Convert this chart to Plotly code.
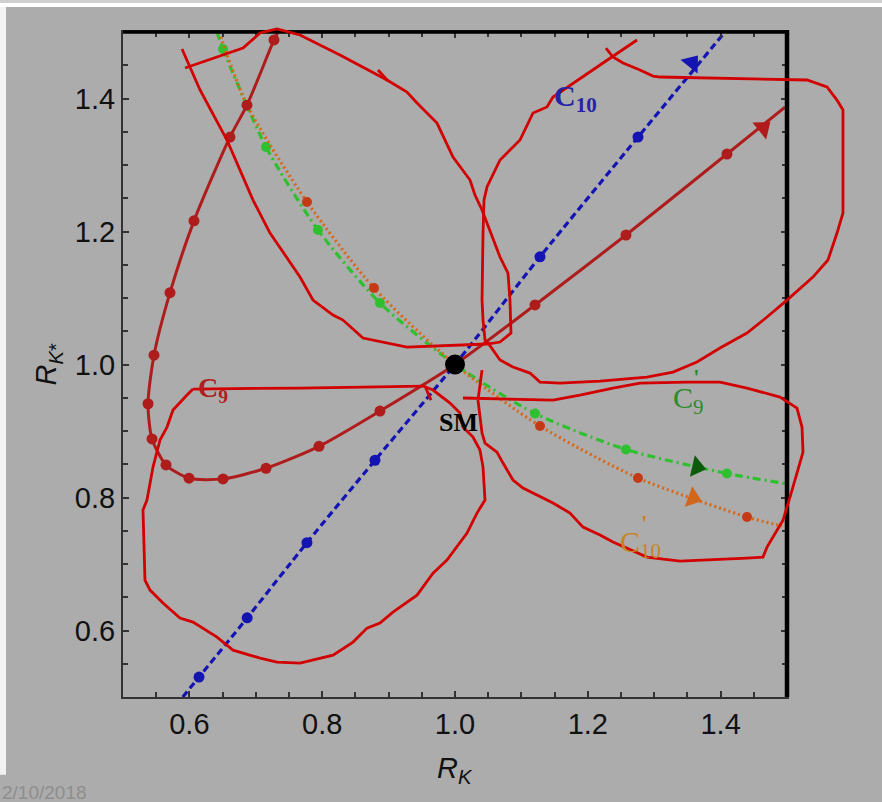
import plotly.graph_objects as go

# ---------------------------------------------------------------- axes
X_RANGE = [0.5, 1.5]
Y_RANGE = [0.5, 1.5]
TICK_LABELS = [0.6, 0.8, 1.0, 1.2, 1.4]

# ---------------------------------------------------------------- flows in the (R_K, R_K*) plane
# C10 (blue, dashed)
c10_rk = [0.590, 0.6145, 0.687, 0.777, 0.8795, 1.000, 1.128, 1.2756, 1.4066]
c10_rks = [0.500, 0.530, 0.619, 0.732, 0.856, 1.000, 1.162, 1.342, 1.500]
c10_dot_rk = [0.6145, 0.687, 0.777, 0.8795, 1.128, 1.2756]
c10_dot_rks = [0.530, 0.619, 0.732, 0.856, 1.162, 1.342]

# C9 (dark red, solid)
c9_rk = [0.7334, 0.7274, 0.6867, 0.6611, 0.6069, 0.5708, 0.5467, 0.5377, 0.5437,
         0.5648, 0.5994, 0.6506, 0.7154, 0.7952, 0.8870, 1.000, 1.1205, 1.2575,
         1.4096, 1.497]
c9_rks = [1.500, 1.488, 1.390, 1.342, 1.216, 1.108, 1.014, 0.941, 0.888,
          0.849, 0.829, 0.828, 0.844, 0.877, 0.930, 1.000, 1.0895, 1.1947,
          1.3165, 1.387]
c9_dot_rk = [0.7274, 0.6867, 0.6611, 0.6069, 0.5708, 0.5467, 0.5377, 0.5437, 0.5648,
             0.5994, 0.6506, 0.7154, 0.7952, 0.8870, 1.1205, 1.2575, 1.4096]
c9_dot_rks = [1.488, 1.390, 1.342, 1.216, 1.108, 1.014, 0.941, 0.888, 0.849,
              0.829, 0.828, 0.844, 0.877, 0.930, 1.0895, 1.1947, 1.3165]

# C9' (green, dash-dot)
c9p_rk = [0.6416, 0.6506, 0.7154, 0.7937, 0.8870, 1.000, 1.1205, 1.2575, 1.4096, 1.497]
c9p_rks = [1.500, 1.4744, 1.327, 1.2023, 1.0925, 1.000, 0.9263, 0.8722, 0.8361, 0.8211]
c9p_dot_rk = [0.6506, 0.7154, 0.7937, 0.8870, 1.1205, 1.2575, 1.4096]
c9p_dot_rks = [1.4744, 1.327, 1.2023, 1.0925, 0.9263, 0.8722, 0.8361]

# C10' (orange, dotted)
c10p_rk = [0.6446, 0.6867, 0.7771, 0.878, 1.000, 1.128, 1.2756, 1.4398, 1.4925]
c10p_rks = [1.500, 1.3902, 1.2444, 1.115, 1.000, 0.9075, 0.8293, 0.7707, 0.7571]
c10p_dot_rk = [0.7771, 0.878, 1.128, 1.2756, 1.4398]
c10p_dot_rks = [1.2444, 1.115, 0.9075, 0.8293, 0.7707]

# direction arrows on each flow: position and heading (degrees clockwise from up)
arrow_rk = [1.3569, 1.4638, 1.3644, 1.3584]
arrow_rks = [1.4534, 1.3556, 0.8458, 0.7991]
arrow_heading = [39, 51, 103, 110]
arrow_colors = ["#1414b4", "#b01a1a", "#0c5c0c", "#d2661a"]

# Standard Model point
sm_rk = [1.0]
sm_rks = [1.0]

# ---------------------------------------------------------------- hand-drawn red loops
loop_c10 = [[0.5934, 1.4459], [0.6807, 1.4759], [0.7063, 1.4985], [0.7319, 1.5045],
            [0.7666, 1.4955], [0.8268, 1.4654], [0.8976, 1.4278], [0.9277, 1.4098],
            [0.9428, 1.3932], [0.9729, 1.3631], [0.9970, 1.3120], [1.0226, 1.2774],
            [1.0301, 1.2548], [1.0407, 1.2323], [1.0678, 1.1616], [1.0798, 1.1375],
            [1.0828, 1.0969], [1.0843, 1.0473], [1.0678, 1.0338], [1.0482, 1.0308],
            [0.9277, 1.0262], [0.8614, 1.0398], [0.8313, 1.0668], [0.8163, 1.0744],
            [0.7861, 1.0969], [0.7666, 1.1315], [0.7410, 1.1691], [0.7214, 1.1977],
            [0.6958, 1.2473], [0.6566, 1.3376], [0.6160, 1.4128], [0.5889, 1.4744]]
loop_upper_right = [[1.2741, 1.4880], [1.2184, 1.4504], [1.1476, 1.4022], [1.1385, 1.3872],
                    [1.1175, 1.3782], [1.0979, 1.3376], [1.0678, 1.3075], [1.0482, 1.2669],
                    [1.0437, 1.2473], [1.0422, 1.1977], [1.0407, 1.0969], [1.0422, 1.0668],
                    [1.0452, 1.0368], [1.0497, 1.0323], [1.0678, 1.0067], [1.0873, 0.9962],
                    [1.1129, 0.9871], [1.1280, 0.9736], [1.1581, 0.9721], [1.2184, 0.9751],
                    [1.2891, 0.9811], [1.3283, 0.9886], [1.3644, 1.0037], [1.3991, 1.0247],
                    [1.4397, 1.0473], [1.4699, 1.0714], [1.5000, 1.0969], [1.5391, 1.1315],
                    [1.5617, 1.1571], [1.5753, 1.1977], [1.5843, 1.2278], [1.5843, 1.3827],
                    [1.5753, 1.3977], [1.5602, 1.4173], [1.5301, 1.4278], [1.3087, 1.4323],
                    [1.2982, 1.4338], [1.2786, 1.4428], [1.2530, 1.4534], [1.2379, 1.4624],
                    [1.2274, 1.4759]]
loop_c9 = [[0.6054, 0.9631], [0.7666, 0.9646], [0.9518, 0.9676], [0.9669, 0.9616],
           [0.9925, 0.9420], [1.0075, 0.9270], [1.0120, 0.9059], [1.0271, 0.8909],
           [1.0376, 0.8713], [1.0422, 0.8458], [1.0452, 0.7961], [1.0331, 0.7766],
           [1.0181, 0.7465], [0.9879, 0.7059], [0.9669, 0.6863], [0.9428, 0.6532],
           [0.9066, 0.6277], [0.8870, 0.6111], [0.8675, 0.6036], [0.8464, 0.5826],
           [0.8163, 0.5630], [0.7666, 0.5510], [0.7319, 0.5525], [0.7063, 0.5585],
           [0.6657, 0.5705], [0.6416, 0.5901], [0.6054, 0.6126], [0.5858, 0.6187],
           [0.5602, 0.6412], [0.5407, 0.6608], [0.5331, 0.6758], [0.5301, 0.7811],
           [0.5361, 0.7961], [0.5452, 0.8458], [0.5557, 0.8864], [0.5663, 0.9059],
           [0.5753, 0.9315], [0.5964, 0.9541], [0.6054, 0.9631]]
loop_lower_right = [[1.0407, 0.9916], [1.0346, 0.9465], [1.0407, 0.8969], [1.0452, 0.8819],
                    [1.0632, 0.8683], [1.0723, 0.8518], [1.0873, 0.8262], [1.1024, 0.8142],
                    [1.1476, 0.7916], [1.1732, 0.7766], [1.1928, 0.7555], [1.2184, 0.7435],
                    [1.2379, 0.7330], [1.2891, 0.7104], [1.3388, 0.7044], [1.4397, 0.7089],
                    [1.4638, 0.7104], [1.4699, 0.7254], [1.4789, 0.7405], [1.4940, 0.7660],
                    [1.5045, 0.8006], [1.5150, 0.8367], [1.5241, 0.8683], [1.5226, 0.9059],
                    [1.5150, 0.9345], [1.4894, 0.9510], [1.4397, 0.9646], [1.3991, 0.9736],
                    [1.3494, 0.9736], [1.2786, 0.9721], [1.2379, 0.9646], [1.1882, 0.9541],
                    [1.1476, 0.9465], [1.0120, 0.9496]]
barb_upper = [[0.8840, 1.4428], [0.8991, 1.4263]]
barb_c9 = [[0.9548, 0.9676], [0.9639, 0.9465]]

# ---------------------------------------------------------------- styling
BG = "#acacac"
PEN = "#d20000"
SANS = "Liberation Sans, Arial, sans-serif"
SERIF = "Liberation Serif, Times New Roman, serif"

fig = go.Figure()


def add_flow(xs, ys, dot_x, dot_y, color, dash, width, dot_color, dot_size):
    fig.add_trace(go.Scatter(
        x=xs, y=ys, mode="lines",
        line=dict(color=color, dash=dash, width=width, shape="spline", smoothing=0.7),
        hoverinfo="skip", showlegend=False))
    fig.add_trace(go.Scatter(
        x=dot_x, y=dot_y, mode="markers",
        marker=dict(color=dot_color, size=dot_size, line=dict(width=0)),
        showlegend=False))


add_flow(c9p_rk, c9p_rks, c9p_dot_rk, c9p_dot_rks, "#2ec02e", "8px,4px,2px,4px", 3.2, "#2ec02e", 10)
add_flow(c10p_rk, c10p_rks, c10p_dot_rk, c10p_dot_rks, "#d86818", "2px,3px", 3.2, "#c43a14", 10)
add_flow(c10_rk, c10_rks, c10_dot_rk, c10_dot_rks, "#1414b4", "7px,4px", 3.2, "#1414b4", 11)
add_flow(c9_rk, c9_rks, c9_dot_rk, c9_dot_rks, "#ae1c1c", "solid", 3.0, "#ae1c1c", 11)

fig.add_trace(go.Scatter(
    x=arrow_rk, y=arrow_rks, mode="markers",
    marker=dict(symbol="triangle-up", size=19, angle=arrow_heading,
                color=arrow_colors, line=dict(width=0)),
    showlegend=False))

fig.add_trace(go.Scatter(
    x=sm_rk, y=sm_rks, mode="markers",
    marker=dict(color="black", size=20, line=dict(width=0)),
    showlegend=False))


# data -> paper coordinates so the pen strokes may leave the frame
def to_paper(pt):
    px = (pt[0] - X_RANGE[0]) / (X_RANGE[1] - X_RANGE[0])
    py = (pt[1] - Y_RANGE[0]) / (Y_RANGE[1] - Y_RANGE[0])
    return px, py


def stroke_path(points):
    coords = [to_paper(p) for p in points]
    return "M " + " L ".join(f"{px:.4f},{py:.4f}" for px, py in coords)


shapes = [
    # page frame around the slide
    dict(type="rect", xref="paper", yref="paper", x0=-0.20, x1=1.20, y0=1.0436, y1=1.06,
         fillcolor="#cfcfcf", line=dict(width=0), layer="below"),
    dict(type="rect", xref="paper", yref="paper", x0=-0.20, x1=1.20, y0=1.0376, y1=1.0436,
         fillcolor="white", line=dict(width=0), layer="below"),
    dict(type="rect", xref="paper", yref="paper", x0=-0.20, x1=-0.1762, y0=-0.117, y1=1.0376,
         fillcolor="#f2f2f2", line=dict(width=0), layer="below"),
    # heavy top and right frame edges
    dict(type="line", xref="paper", yref="paper", x0=0, x1=1.0, y0=1.0, y1=1.0,
         line=dict(color="black", width=3.5), layer="above"),
    dict(type="line", xref="paper", yref="paper", x0=1.0, x1=1.0, y0=0, y1=1.003,
         line=dict(color="black", width=4.5), layer="above"),
]
for pts in [loop_c10, loop_upper_right, loop_c9, loop_lower_right, barb_upper, barb_c9]:
    shapes.append(dict(type="path", xref="paper", yref="paper", path=stroke_path(pts),
                       line=dict(color=PEN, width=2.8), layer="above"))

annotations = [
    dict(x=1.181, y=1.401, text="<b>C<sub>10</sub></b>", font=dict(family=SERIF, size=30, color="#2424a4")),
    dict(x=0.636, y=0.962, text="<b>C<sub>9</sub></b>", font=dict(family=SERIF, size=28, color="#b01e1e")),
    dict(x=1.351, y=0.946, text="C<sub>9</sub>", font=dict(family=SERIF, size=30, color="#2d8a2d")),
    dict(x=1.363, y=0.981, text="<b>'</b>", font=dict(family=SERIF, size=24, color="#2d8a2d")),
    dict(x=1.279, y=0.730, text="C<sub>10</sub>", font=dict(family=SERIF, size=30, color="#c8841e")),
    dict(x=1.285, y=0.762, text="<b>'</b>", font=dict(family=SERIF, size=24, color="#c8841e")),
    dict(x=1.006, y=0.913, text="<b>SM</b>", font=dict(family=SERIF, size=26, color="black")),
]
for a in annotations:
    a.update(xref="x", yref="y", showarrow=False, xanchor="center", yanchor="middle")

annotations += [
    dict(xref="paper", yref="paper", x=0.5, y=-0.110, showarrow=False,
         text="<i>R</i><sub><i>K</i></sub>", font=dict(family=SANS, size=29, color="#111"),
         xanchor="center", yanchor="middle"),
    dict(xref="paper", yref="paper", x=-0.113, y=0.5, showarrow=False, textangle=-90,
         text="<i>R</i><sub><i>K</i>*</sub>", font=dict(family=SANS, size=29, color="#111"),
         xanchor="center", yanchor="middle"),
    dict(xref="paper", yref="paper", x=-0.1852, y=-0.1245, showarrow=False,
         text="2/10/2018", font=dict(family=SANS, size=19, color="#8e8e8e"),
         xanchor="left", yanchor="top"),
]

axis_common = dict(
    showgrid=False, zeroline=False,
    showline=True, linecolor="#333333", linewidth=2, mirror="ticks",
    ticks="inside", ticklen=6, tickwidth=1.5, tickcolor="#333333",
    tickmode="array", tickvals=TICK_LABELS, ticktext=[f"{v:.1f}" for v in TICK_LABELS],
    minor=dict(dtick=0.05, tick0=0.5, ticks="inside", ticklen=5, tickwidth=1.5, tickcolor="#333333"),
    tickfont=dict(family=SANS, size=29, color="#111111"),
)

fig.update_layout(
    width=882, height=802,
    margin=dict(l=123, r=95, t=32, b=105),
    paper_bgcolor=BG, plot_bgcolor=BG,
    xaxis=dict(range=X_RANGE, **axis_common),
    yaxis=dict(range=Y_RANGE, **axis_common),
    shapes=shapes, annotations=annotations,
    showlegend=False,
)

fig.write_html("out.html")
